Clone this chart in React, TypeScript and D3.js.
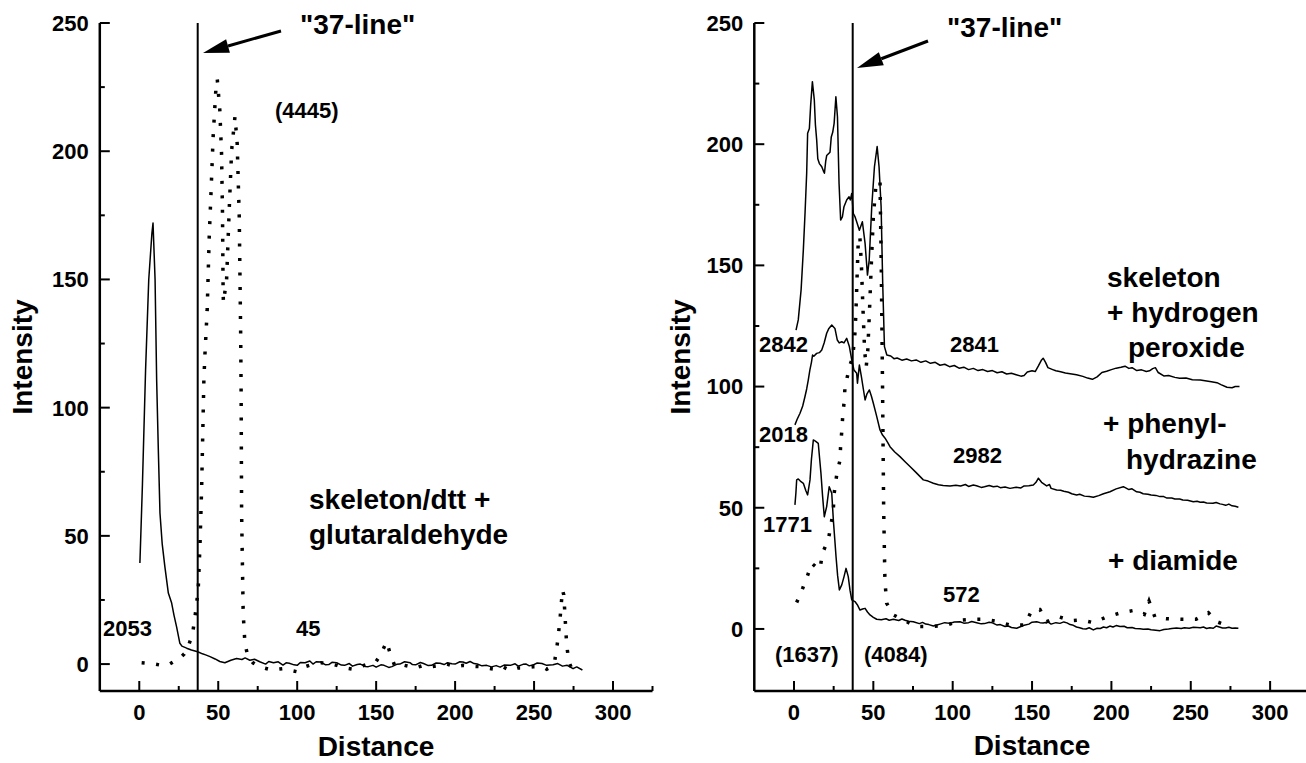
import React from 'react';
import * as d3 from 'd3';

type P = [number, number];

// ---------- Left panel: skeleton/dtt + glutaraldehyde ----------
const leftSolid: P[] = [
  [0.4, 39.4], [2, 70], [4, 115], [6, 150], [8, 168], [8.7, 172], [10, 150], [11, 110.8], [12, 85],
  [13.1, 58.9], [14.5, 47], [16.2, 38], [18.4, 27.7], [20.5, 23.8], [22, 19], [23.6, 14.6], [25.7, 8.1],
  [27, 7], [30, 6.2], [33, 5.5], [37, 4.8], [40, 4], [42, 3.6], [44.8, 2.9], [48, 2], [51, 1], [54.2, 0.5],
  [58, 1.5], [61.6, 2.2], [65, 1.8], [67, 2.4], [70, 1.5], [73, 1.9], [76.3, 0.9], [80, 0], [82, 1], [85, 0.5],
  [88, 0.9], [91, -0.4], [93, 0.5], [95, 0.3], [98, -0.3], [100, -0.5], [102, 0.6], [105, 0.5], [108, 1.2],
  [110, 0], [112, 0.9], [115, 0.8], [118, -0.3], [120, -0.2], [122, 0.7], [125, 0.5], [128, -0.4], [130, -0.5],
  [133, 0.2], [135, -0.8], [138, -0.2], [140, 0], [143, -0.9], [145, -1], [148, -0.5], [150, -1.2], [153, -0.3],
  [155, -0.5], [158, -1.3], [160, -1], [163, -0.1], [165, 0], [168, 0.9], [171.6, 0.5], [173, -0.2], [175, -0.3],
  [178, 0.6], [180, 0.2], [183, -0.6], [185, -0.5], [188, 0.4], [190.5, 0.3], [193, -0.2], [195, 0.5], [198, 0.1],
  [200, 0], [203, 0.9], [205, 0.8], [207, 0.3], [209.5, 1], [212, 0.2], [214, 0], [217, -0.7], [220, -0.5],
  [223, -1.1], [226, -0.6], [228.5, -1.2], [231, -0.4], [235, -0.5], [238, 0.1], [240, -0.8], [243, -0.1],
  [245, 0], [247, -0.7], [249.5, -0.3], [252, 0.4], [255, 0.2], [258, -0.5], [262, -0.3], [265, 0.2],
  [268, -0.8], [271, -0.5], [274.7, -1.8], [277, -1.1], [280.6, -2.3],
];

const leftDotted: P[] = [
  [1.5, 0.5], [5, 0.3], [9.9, 0], [14, -0.5], [18.2, -0.4], [22, 1], [25.7, 2.3], [28.5, 4], [31, 6.8],
  [33.8, 12], [35.2, 18], [37.3, 28.9], [38.4, 45.7], [39.5, 69], [40.9, 110.8], [41.6, 121], [43, 138],
  [44.3, 166.7], [45.4, 183.5], [46.8, 206], [48.5, 224], [49.4, 228], [51, 216], [52.1, 199], [52.7, 175.7],
  [53.1, 144.6], [53.3, 141], [55.3, 150], [57, 178], [58.5, 200.5], [60.6, 213.5], [62, 203], [63.3, 174.5],
  [64.2, 129], [64.5, 105.7], [64.8, 59], [65.8, 19.8], [66.9, 8], [68.8, 2.9], [72, 0.5], [76, -1],
  [83.6, -2.3], [91, -1.8], [100, -3], [105, -1], [110, 0], [115, 0.5], [120, 0.3], [125, -0.5], [130, -1.5],
  [135, -2], [140, -1], [145, 0], [150, 1], [153, 3.9], [156.6, 8.7], [159, 3.9], [162, -1], [168, -0.5],
  [175, -1.5], [180, -0.5], [185, -1], [190, -0.5], [195, 0], [200, -1], [205, -0.5], [210, -0.8], [215, -1],
  [220, -1.5], [225, -2], [230, -1], [235, -2.5], [240, -1.5], [245, -1.5], [250, -1], [255, -1], [258, -2],
  [261, -1], [263, 0.9], [264.5, 6.8], [265.5, 12], [266.5, 18], [267.3, 24], [268, 28.9], [268.8, 27],
  [269.5, 20], [270.2, 12], [270.8, 6.8], [272, 1], [274, -2], [275, -3.5],
];

// ---------- Right panel ----------
const rightPeroxide: P[] = [
  [1.3, 123.3], [2.7, 127.5], [4.5, 140], [5.9, 156.4], [7, 172], [8, 188], [8.6, 204.5], [9.7, 206.5],
  [10.5, 216], [11.6, 225.8], [12.8, 218.3], [13.5, 208], [14.3, 201.8], [15, 194], [16, 192], [17.5, 190.7],
  [18.5, 189], [19.2, 188], [20, 193], [20.6, 195.3], [22.7, 196.7], [23.5, 203], [24.4, 204.9], [25.3, 208.6],
  [26.4, 219.6], [27.4, 211.3], [28.4, 183.8], [29.4, 168.7], [30.5, 170], [31.5, 174.2], [33.2, 177],
  [34.7, 178.3], [35.5, 177], [36.4, 179.7], [37.4, 171.4], [38.5, 170], [39.5, 168], [41.2, 164.5],
  [43.1, 168], [44.8, 159.1], [46.3, 146], [47.4, 152.2], [49, 174.2], [50.7, 190.7], [52.4, 199],
  [53.6, 190.7], [54.9, 174.2], [55.9, 142.6], [57, 116.5], [58.5, 113], [61, 112.6], [63, 111.5], [65, 111.8],
  [68, 110.9], [71, 111.4], [74, 110.6], [77, 111], [80, 110], [83, 110.6], [86, 109.6], [89, 110], [92, 108.8],
  [95, 109.2], [98, 108.2], [101, 108.7], [104, 107.6], [107, 108], [110, 107], [113, 107.5], [116, 106.6],
  [119, 107], [122, 106.2], [125, 106.6], [128, 105.7], [131, 106.1], [134, 105.2], [137, 105.5], [140, 104.9],
  [143, 104.3], [145, 104.6], [147, 106], [150, 106.5], [152, 106.2], [154, 108.5], [156, 111], [157, 111.7],
  [158.5, 110], [160, 107.8], [163, 107], [165, 106.5], [168, 106.1], [171, 105.6], [175, 105.2], [178, 104.9],
  [182, 104.2], [185, 103.5], [188, 103], [191, 104], [194, 105.8], [197, 106.3], [200, 107], [203, 107.6],
  [206, 108], [208.6, 108.4], [211, 107.5], [213, 107.8], [216, 106.6], [219, 106.9], [222, 106.2], [224, 106.5],
  [226, 107.4], [227.7, 107.8], [229.5, 105.8], [233, 104.4], [236, 104.6], [240, 103.8], [243, 103.4],
  [247, 103.5], [251, 102.8], [256, 102.7], [259, 102.4], [263, 102], [266.5, 101.6], [269, 100.8],
  [272.8, 99.7], [276, 99.5], [278, 100], [280.7, 100],
];

const rightPhenyl: P[] = [
  [0.6, 84.2], [2, 86.5], [3.8, 89], [5.5, 92], [6.9, 95.8], [8, 99], [9, 102.7], [10, 106.8], [11, 110],
  [11.7, 113], [12.5, 112.5], [14.3, 113.7], [16, 114], [17.5, 115.1], [19, 118], [20.6, 122], [22, 124],
  [23.8, 125.4], [25.8, 124], [27.3, 119.2], [28.5, 118], [30.1, 118.5], [31.5, 118], [33.2, 119.9],
  [34.9, 116.5], [36.4, 111], [37.8, 106.8], [39.5, 105.5], [40, 101.4], [41.2, 108.9], [42.5, 104],
  [43.7, 99], [44.8, 94.5], [46, 97], [47.5, 98.6], [48.8, 96], [50, 93.1], [52, 88], [54.2, 82.1], [55.8, 80],
  [57.4, 78.7], [59, 77], [60.5, 75.2], [63.5, 73], [66.8, 71.1], [70, 69], [73.1, 67], [77, 64.5], [81.5, 61.5],
  [84.5, 61], [87.8, 60.1], [91, 59.5], [94, 59.2], [98.3, 59], [102, 59.3], [105, 59], [108, 59.6], [110, 58.8],
  [113, 59.4], [115, 59.1], [118, 58.4], [120, 58.7], [123, 59.2], [125.6, 58.7], [128, 58.9], [130, 58.3],
  [133, 58.6], [136.1, 58], [140, 58.5], [143, 58.2], [145, 59], [148, 59.1], [150.8, 59.4], [152.5, 60.5],
  [154, 62.2], [156, 60.5], [159.2, 59], [161, 59.6], [162, 58], [165.5, 57.3], [168, 57.2], [170, 56.8],
  [173, 56.4], [175, 55.8], [178.1, 55.3], [180, 55.6], [183, 54.8], [186, 54.6], [188.6, 54.3], [192, 55],
  [195, 55.8], [199.1, 56.6], [203, 57.8], [207.5, 58.7], [209, 58.2], [211, 57.5], [213, 57.8], [215.9, 56.6],
  [218, 56.4], [220, 55.8], [223, 55.6], [225, 55.3], [228, 55.1], [230.6, 54.6], [233, 54.6], [235, 54],
  [238, 54], [240, 53.6], [243, 53.6], [245, 53.2], [248, 53.1], [251.6, 52.5], [254, 52.7], [256, 52.3],
  [258, 52.4], [260, 52], [264, 51.9], [266, 52.2], [268.4, 51.6], [270, 51.4], [272, 51], [274, 51.5],
  [276, 50.8], [278, 50.6], [280, 50.2],
];

const rightDiamide: P[] = [
  [0.6, 51.2], [1.2, 56], [1.7, 61.5], [2.7, 61.9], [4, 61], [5.9, 60.1], [7.5, 57], [8.6, 55.3], [10.1, 61.5],
  [11, 70], [12.2, 78], [13.5, 77.5], [15.3, 76.6], [16.2, 70], [17, 64.2], [18, 55], [19.1, 46.3], [20.6, 50.5],
  [22.2, 58.7], [23.8, 56], [24.8, 45], [25.7, 37], [26.5, 29.8], [27.5, 22], [28.6, 16.1], [30.1, 18.2],
  [31.5, 21.5], [32.8, 25], [34.2, 21.6], [35.3, 16], [36.4, 12], [38.4, 11.3], [39.9, 10], [41.6, 7.8],
  [43.2, 8.2], [44.8, 8.5], [46.3, 7], [47.9, 5.8], [50, 4.8], [52.1, 4], [55, 3.8], [58, 4.2], [60, 3.6],
  [62.6, 4], [66, 3.5], [68, 4.1], [70, 3.6], [72, 3.2], [75.2, 3], [79, 2.2], [81, 2.7], [83, 2], [85, 1.8],
  [87.8, 1.2], [90, 1.6], [92, 2], [95, 2.6], [98.3, 2.3], [101, 2.9], [104.6, 3], [107, 2.4], [110, 2.6],
  [112, 3.1], [115.1, 2.6], [118, 2.1], [120, 2.2], [123, 2.8], [125, 2.5], [128, 1.6], [130, 1.8], [133, 1],
  [135, 1.2], [137, 0.6], [140.3, 0.3], [143, 1], [145, 1.5], [148, 2], [150, 2.8], [152.9, 3], [155, 2.6],
  [157, 2.5], [160, 2.9], [162, 2], [165, 2.6], [167.6, 2.3], [170, 2.9], [172, 2.5], [174, 1.8], [176, 1.5],
  [178, 0.8], [180, 0.5], [182, 0.1], [184, 0], [186, 0.5], [188.6, -0.4], [191, 0.3], [193, 0.2], [195, 0.8],
  [197, 0.5], [199, 1.2], [201, 0.8], [203, 1.4], [205.4, 1], [208, 1.1], [210, 0.5], [213, 0.6], [215, 0.2],
  [218, 0.1], [220.1, -0.1], [223, 0], [225, -0.3], [228, -0.5], [230.6, -0.7], [233, -0.2], [236, 0],
  [238, 0.2], [241, 0.4], [244, 0.2], [246, 0.5], [249, 0.3], [251.6, 0.7], [254, 0.6], [256, 0.5], [258, 0.8],
  [260, 0.2], [262, 0.5], [264.2, 0.3], [266, 1.2], [268, 0.8], [270, 0.4], [272, 0.4], [274, 0.7], [276, 0.3],
  [278, 0.4], [280, 0.3],
];

const rightDotted: P[] = [
  [1.7, 10.9], [5.5, 16.8], [9.1, 23], [11.2, 27.1], [14, 25.5], [16.4, 24.6], [17.9, 31.2], [21.7, 37],
  [23.3, 42.9], [24.8, 49.1], [25.2, 55.3], [26.9, 63.5], [29, 69.7], [29.4, 75.9], [30.1, 81.4], [30.7, 87.6],
  [31.5, 93.1], [32.1, 99.3], [33.2, 102.7], [34.9, 108.2], [37, 112], [38.4, 122], [39, 130], [39.5, 140],
  [40.5, 160], [41.5, 162], [42.5, 150], [43.3, 135], [44.5, 115], [45.5, 108], [46.5, 115], [47.5, 130],
  [49, 155], [50, 170], [51.5, 182], [53, 184], [54.2, 185], [55, 150], [55.8, 100], [56.5, 50], [57.3, 20],
  [58.4, 10.6], [62.6, 5.8], [71, 3], [77.3, 1], [86.7, 1], [96.2, 1.6], [105.7, 3.7], [112, 4], [120.3, 4],
  [128.7, 3], [136.1, 1.6], [145.5, 1.6], [150, 8], [155, 8], [159.2, 3], [166.5, 5.1], [174.9, 3.4],
  [181.2, 3.7], [188.6, 2.6], [196.4, 4.8], [206, 6.7], [213.7, 7.6], [220.7, 6], [223.7, 11.5], [227.5, 4.7],
  [234.9, 4.2], [243.9, 4], [253.3, 4], [261.1, 6.7], [266.4, 3], [274.4, 1],
];

// ---------- Ticks ----------
const yMajor = [0, 50, 100, 150, 200, 250];
const yMinor = [25, 75, 125, 175, 225];
const xMajor = [0, 50, 100, 150, 200, 250, 300];
const xMinor = [25, 75, 125, 175, 225, 275, 325];
const line37 = 37;

const FONT = "'Liberation Sans', Arial, Helvetica, sans-serif";

type Scale = d3.ScaleLinear<number, number>;

function Axes({ x, y }: { x: Scale; y: Scale }) {
  const [x0, x1] = x.range();
  const [yb, yt] = y.range();
  return (
    <g fontFamily={FONT} fontWeight="bold" fill="#000">
      <line x1={x0} x2={x0} y1={yt} y2={yb} stroke="#000" strokeWidth={2.5} />
      <line x1={x0} x2={x1} y1={yb} y2={yb} stroke="#000" strokeWidth={2.5} />
      {yMajor.map((v) => (
        <g key={'ym' + v}>
          <line x1={x0} x2={x0 + 10} y1={y(v)} y2={y(v)} stroke="#000" strokeWidth={2} />
          <text x={x0 - 11} y={y(v)} dy="0.36em" textAnchor="end" fontSize={22}>{v}</text>
        </g>
      ))}
      {yMinor.map((v) => (
        <line key={'yn' + v} x1={x0} x2={x0 + 5} y1={y(v)} y2={y(v)} stroke="#000" strokeWidth={2} />
      ))}
      {xMajor.map((v) => (
        <g key={'xm' + v}>
          <line x1={x(v)} x2={x(v)} y1={yb} y2={yb - 10} stroke="#000" strokeWidth={2} />
          <text x={x(v)} y={yb + 29} textAnchor="middle" fontSize={22}>{v}</text>
        </g>
      ))}
      {xMinor.map((v) => (
        <line key={'xn' + v} x1={x(v)} x2={x(v)} y1={yb} y2={yb - 5} stroke="#000" strokeWidth={2} />
      ))}
    </g>
  );
}

function Arrow({ tip, tail }: { tip: P; tail: P }) {
  const dx = tail[0] - tip[0];
  const dy = tail[1] - tip[1];
  const len = Math.hypot(dx, dy);
  const ux = dx / len, uy = dy / len;
  const hl = 26, hw = 7;
  const bx = tip[0] + ux * hl, by = tip[1] + uy * hl;
  const px = -uy, py = ux;
  const pts = `${tip[0]},${tip[1]} ${bx + px * hw},${by + py * hw} ${bx - px * hw},${by - py * hw}`;
  return (
    <g>
      <line x1={bx} y1={by} x2={tail[0]} y2={tail[1]} stroke="#000" strokeWidth={3} />
      <polygon points={pts} fill="#000" />
    </g>
  );
}

export default function App() {
  const xL = d3.scaleLinear().domain([-25, 325]).range([99.8, 652.5]);
  const yL = d3.scaleLinear().domain([-10.5, 250]).range([691, 23]);
  const xR = d3.scaleLinear().domain([-25, 325]).range([754.3, 1309.8]);
  const yR = d3.scaleLinear().domain([-25.6, 250]).range([691, 23]);

  const mk = (x: Scale, y: Scale) =>
    d3.line<P>().x((d) => x(d[0])).y((d) => y(d[1])).curve(d3.curveLinear);
  const lineL = mk(xL, yL);
  const lineR = mk(xR, yR);

  const solid = { fill: 'none', stroke: '#000', strokeWidth: 1.5, strokeLinejoin: 'round' as const };
  const dotted = { fill: 'none', stroke: '#000', strokeWidth: 3.5, strokeDasharray: '3 11.5' };

  const t28 = { fontFamily: FONT, fontWeight: 'bold' as const, fontSize: 28 };
  const t22 = { fontFamily: FONT, fontWeight: 'bold' as const, fontSize: 22 };

  return (
    <svg width={1306} height={763} style={{ position: 'fixed', left: 0, top: 0, background: '#fff' }}>
      <rect x={0} y={0} width={1306} height={763} fill="#fff" />

      {/* Left panel */}
      <Axes x={xL} y={yL} />
      <line x1={xL(line37)} x2={xL(line37)} y1={yL(250)} y2={yL(-10.5)} stroke="#000" strokeWidth={2} />
      <path d={lineL(leftSolid) || ''} {...solid} />
      <path d={lineL(leftDotted) || ''} {...dotted} />
      <Arrow tip={[203, 53]} tail={[281, 31]} />
      <text x={300} y={34} {...t28}>"37-line"</text>
      <text x={275} y={118} {...t22}>(4445)</text>
      <text x={103} y={636} {...t22}>2053</text>
      <text x={296} y={636} {...t22}>45</text>
      <text x={309} y={509} {...t28}>skeleton/dtt +</text>
      <text x={309} y={544} {...t28}>glutaraldehyde</text>
      <text transform="translate(32,357) rotate(-90)" textAnchor="middle" {...t28}>Intensity</text>
      <text x={376} y={756} textAnchor="middle" {...t28}>Distance</text>

      {/* Right panel */}
      <Axes x={xR} y={yR} />
      <line x1={xR(line37)} x2={xR(line37)} y1={yR(250)} y2={yR(-25.6)} stroke="#000" strokeWidth={2} />
      <path d={lineR(rightPeroxide) || ''} {...solid} />
      <path d={lineR(rightPhenyl) || ''} {...solid} />
      <path d={lineR(rightDiamide) || ''} {...solid} />
      <path d={lineR(rightDotted) || ''} {...dotted} />
      <Arrow tip={[857, 68]} tail={[928, 41]} />
      <text x={947} y={37} {...t28}>"37-line"</text>
      <text x={759} y={352} {...t22}>2842</text>
      <text x={950} y={352} {...t22}>2841</text>
      <text x={1107} y={287} {...t28}>skeleton</text>
      <text x={1107} y={322} {...t28}>+ hydrogen</text>
      <text x={1128} y={357} {...t28}>peroxide</text>
      <text x={759} y={442} {...t22}>2018</text>
      <text x={953} y={463} {...t22}>2982</text>
      <text x={1103} y={433} {...t28}>+ phenyl-</text>
      <text x={1126} y={469} {...t28}>hydrazine</text>
      <text x={763} y={532} {...t22}>1771</text>
      <text x={1108} y={570} {...t28}>+ diamide</text>
      <text x={943} y={602} {...t22}>572</text>
      <text x={775} y={662} {...t22}>(1637)</text>
      <text x={864} y={662} {...t22}>(4084)</text>
      <text transform="translate(690,357) rotate(-90)" textAnchor="middle" {...t28}>Intensity</text>
      <text x={1032} y={755} textAnchor="middle" {...t28}>Distance</text>
    </svg>
  );
}
